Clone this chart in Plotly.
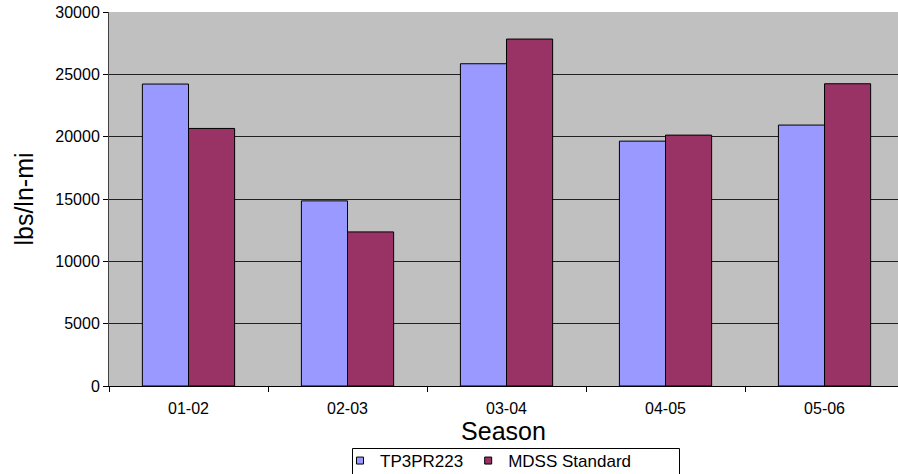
import plotly.graph_objects as go

seasons = ["01-02", "02-03", "03-04", "04-05", "05-06"]
tp3pr223 = [24220, 14850, 25850, 19640, 20930]
mdss_standard = [20660, 12360, 27830, 20125, 24245]
series_names = ["TP3PR223", "MDSS Standard"]
series_colors = ["#9999FF", "#993366"]
y_ticks = [0, 5000, 10000, 15000, 20000, 25000, 30000]
y_tick_labels = [str(v) for v in y_ticks]

FONT = "Liberation Sans, Arial, sans-serif"

W, H = 898, 474
ML, MR, MT, MB = 109, 0, 12, 88
PW, PH = W - ML - MR, H - MT - MB


def px_x(x):
    return (x - ML) / PW


def px_y(y):
    return (H - MB - y) / PH


fig = go.Figure()
for name, vals, col in zip(series_names, [tp3pr223, mdss_standard], series_colors):
    fig.add_trace(go.Bar(x=seasons, y=vals, name=name, showlegend=False, legendgroup=name,
                         marker=dict(color=col, line=dict(color="#000000", width=1))))
for name, col in zip(series_names, series_colors):
    fig.add_trace(go.Scatter(x=[None], y=[None], mode="markers", name=name, legendgroup=name,
                             marker=dict(symbol="square", size=7, color=col,
                                         line=dict(color="#000000", width=1))))

fig.update_layout(
    width=W, height=H,
    margin=dict(l=ML, r=MR, t=MT, b=MB, autoexpand=False),
    paper_bgcolor="white", plot_bgcolor="#C0C0C0",
    barmode="group", bargap=0.42, bargroupgap=0,
    font=dict(family=FONT, color="#000000", size=16),
    showlegend=True,
    legend=dict(orientation="h", x=px_x(340), xanchor="left", y=px_y(443), yanchor="top",
                borderwidth=0, bgcolor="rgba(0,0,0,0)",
                font=dict(size=17, family=FONT), itemwidth=30,
                tracegroupgap=0),
    shapes=[dict(type="rect", xref="paper", yref="paper",
                 x0=px_x(352.5), x1=px_x(679.5), y0=px_y(490), y1=px_y(448.5),
                 line=dict(color="#000000", width=1), fillcolor="white", layer="below")],
)
fig.update_xaxes(
    type="category", range=[-0.5, 4.462],
    showline=True, linecolor="#000000", linewidth=1,
    ticks="outside", tickson="boundaries", ticklen=5, tickcolor="#000000",
    showgrid=False, tickfont=dict(size=16), ticklabelstandoff=8,
    title=dict(text="Season", font=dict(size=25), standoff=3),
)
fig.update_yaxes(
    range=[0, 30000], tickvals=y_ticks, ticktext=y_tick_labels,
    showline=True, linecolor="#404040", linewidth=1,
    ticks="outside", ticklen=5, tickcolor="#000000",
    showgrid=True, gridcolor="#202020", gridwidth=1,
    zeroline=False, tickfont=dict(size=16),
    title=dict(text="lbs/ln-mi", font=dict(size=25), standoff=14),
)

fig.write_html("out.html", config={"displayModeBar": False},
               post_script="document.body.style.margin='0';document.body.style.overflow='hidden';")
